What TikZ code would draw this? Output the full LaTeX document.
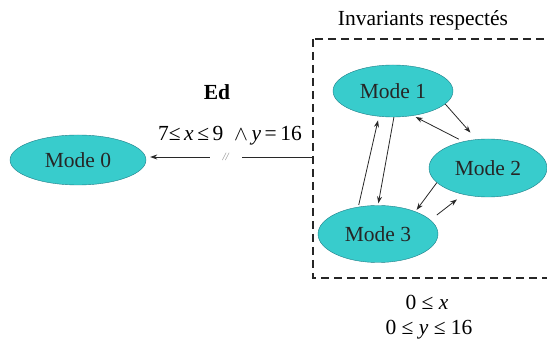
\documentclass[tikz,border=0pt]{standalone}
\usepackage{fontspec}
\setmainfont{Liberation Serif}
\usetikzlibrary{arrows.meta,shapes.geometric}
\definecolor{lagoon}{RGB}{56,204,204}
\definecolor{lagoonline}{RGB}{30,125,135}
\definecolor{wire}{RGB}{40,40,40}
\tikzset{
  mode/.style={ellipse,draw=lagoonline,fill=lagoon,inner sep=0pt,text=black!85,
    font=\fontsize{21.5}{25}\selectfont},
  trans/.style={-{Stealth[length=7pt,width=5pt]},wire,line width=0.8pt},
  txt/.style={font=\fontsize{21.5}{25}\selectfont},
  invbox/.style={draw=black!85,line width=1.2pt,dash pattern=on 8pt off 5pt}
}
\begin{document}
\begin{tikzpicture}[x=1pt,y=-1pt]
  \useasboundingbox (0,0) rectangle (547,347);
  % invariant region
  \draw[invbox] (313,39) rectangle (560,278);
  \node[txt] (title) at (423,20) {Invariants respectés};
  \node[mode,minimum width=120pt,minimum height=52pt] (m1) at (393,91) {Mode 1};
  \node[mode,minimum width=118pt,minimum height=58pt] (m2) at (488,168) {Mode 2};
  \node[mode,minimum width=120pt,minimum height=57pt] (m3) at (378,234) {Mode 3};
  \node[mode,minimum width=136pt,minimum height=50pt] (m0) at (78,160) {Mode 0};
  \draw[trans,shorten >=9pt] (m1.-14) -- (m2.112);
  \draw[trans,shorten <=5pt,shorten >=3pt] (m2.133) -- (m1.-51);
  \draw[trans,shorten >=2pt] (m1.-88) -- (m3.90);
  \draw[trans,shorten <=2pt,shorten >=4pt] (m3.126) -- (m1.-119);
  \draw[trans,shorten >=2pt] (m2.196) -- (m3.31);
  \draw[trans,shorten <=8pt,shorten >=8pt] (m3.15) -- (m2.227);
  % exit edge
  \coordinate (exit) at (313,157);
  \draw[trans,shorten >=4pt] (exit) -- node[fill=white,minimum width=32pt,inner sep=1pt,
    text=black!45,font=\fontsize{11}{12}\selectfont\itshape,xshift=-4pt] (cut) {//} (exit -| m0.east);
  \node[txt,font=\fontsize{21.5}{25}\selectfont\bfseries] (ed) at (217,92) {Ed};
  \node[txt] (guard) at (230,136) {7≤\,\textit{x}\,≤\,9 \ $\wedge$\,\textit{y}\,=\,16};
  \node[txt] (invx) at (427,302) {0 ≤ \textit{x}};
  \node[txt] (invy) at (429,330) {0 ≤ \textit{y} ≤ 16};
\end{tikzpicture}
\end{document}
